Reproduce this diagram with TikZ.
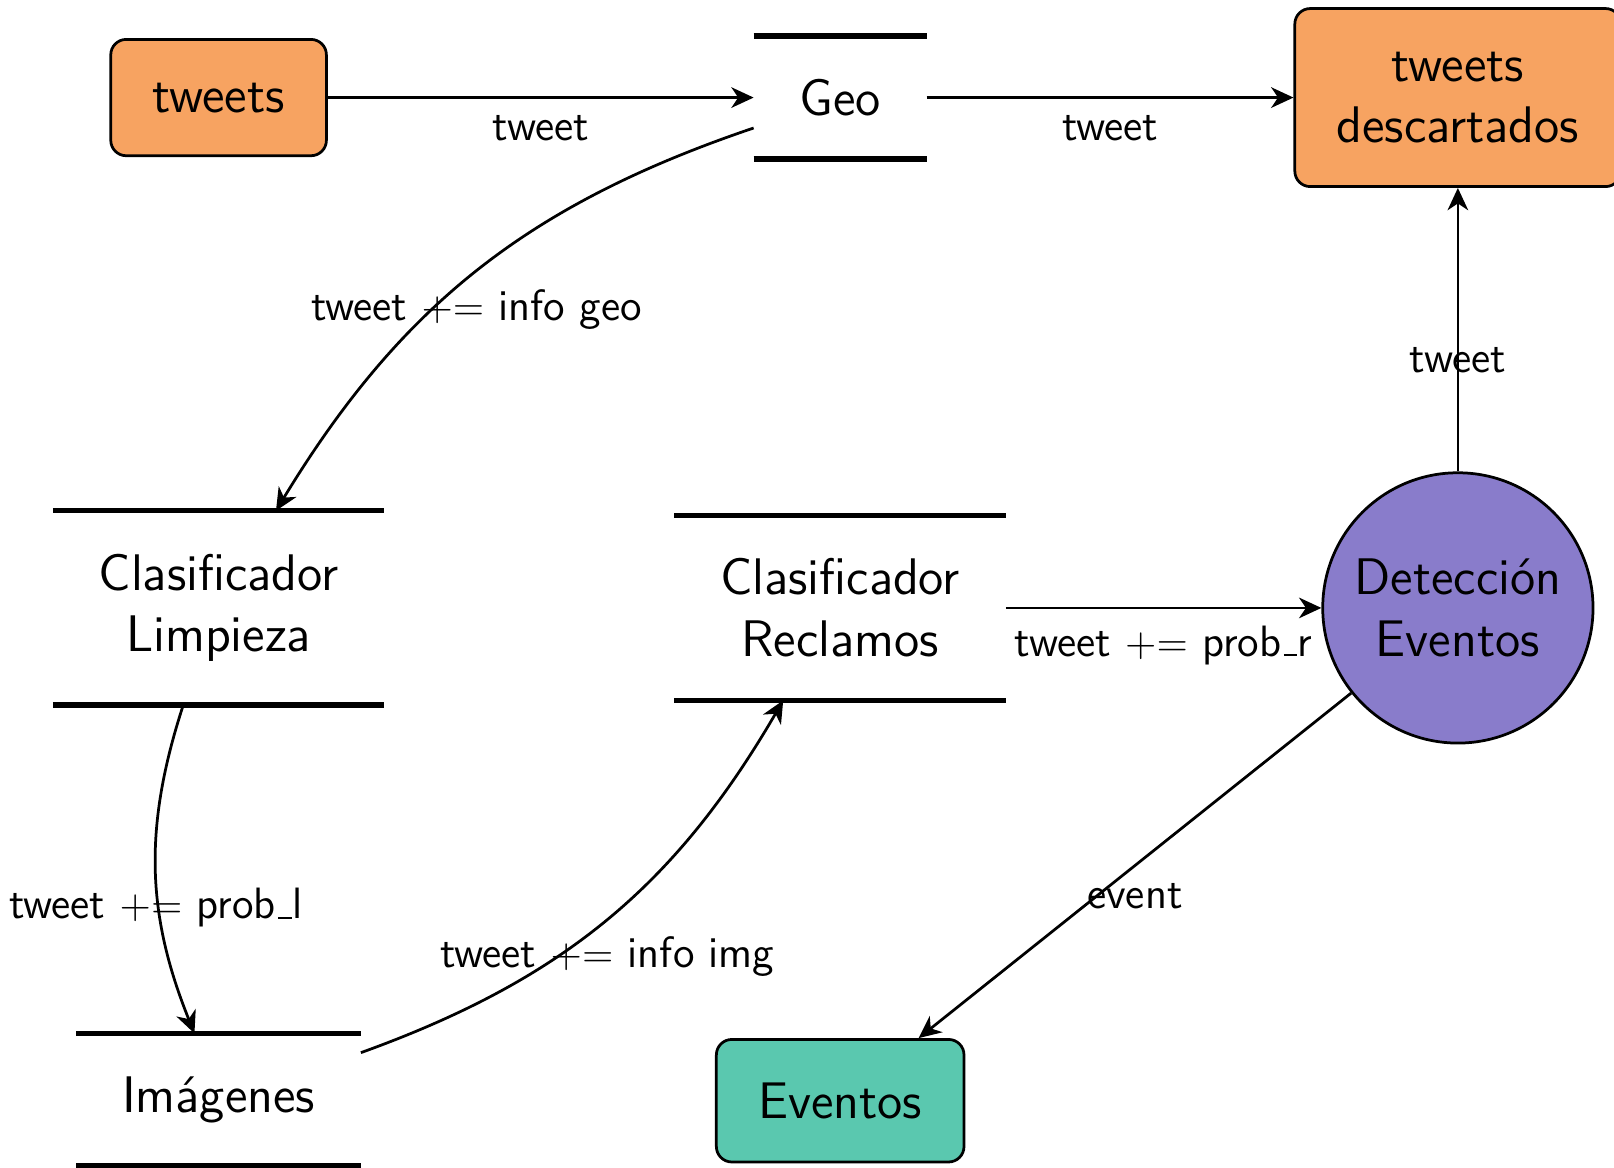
\documentclass[tikz,border=0pt]{standalone}
\usepackage{fontspec}
\usepackage{amsmath}
\usepackage{tikz}
\usetikzlibrary{arrows.meta}

\definecolor{naranja}{RGB}{247,163,97}
\definecolor{violeta}{RGB}{137,124,203}
\definecolor{verdeagua}{RGB}{90,200,175}

\newcommand{\bajo}{\kern.06em\vbox{\hrule width.3em height.6pt}\kern.02em}
\newcommand{\masigual}{${+}{=}$}

\begin{document}
\begin{tikzpicture}[
		caja/.style={draw, thick, rounded corners=4.5pt, font=\sffamily\fontsize{15}{18}\selectfont, align=center, inner xsep=12.2pt, inner ysep=12.6pt},
		proceso/.style={circle, draw, thick, font=\sffamily\fontsize{15}{18}\selectfont, align=center, minimum size=2.77cm, inner sep=0pt},
		almacen/.style={font=\sffamily\fontsize{15}{18}\selectfont, align=center, inner xsep=13.2pt, inner ysep=12.4pt,
			append after command={(\tikzlastnode.north west) edge[ultra thick] (\tikzlastnode.north east)
				(\tikzlastnode.south west) edge[ultra thick] (\tikzlastnode.south east)}},
		flecha/.style={-{Stealth[length=6.5pt, width=6pt, inset=2pt]}, thick},
		etiqueta/.style={font=\sffamily\fontsize{12.8}{15}\selectfont, below=1.5pt}]
	\useasboundingbox (0, 0) rectangle (16.54, -11.96);

	% fila de arriba
	\node[caja, fill=naranja] (tweets) at (2.24, -1) {tweets};
	\node[almacen] (geo) at (8.61, -1) {Geo};
	\node[caja, fill=naranja] (descartados) at (14.94, -1) {tweets\\descartados};

	% fila del medio
	\node[almacen] (limpieza) at (2.24, -6.23) {Clasificador\\Limpieza};
	\node[almacen] (reclamos) at (8.61, -6.23) {Clasificador\\Reclamos};
	\node[proceso, fill=violeta] (deteccion) at (14.94, -6.23) {Detección\\Eventos};

	% fila de abajo
	\node[almacen] (imagenes) at (2.24, -11.27) {Imágenes};
	\node[caja, fill=verdeagua] (eventos) at (8.61, -11.28) {Eventos};

	\draw[flecha] (tweets) -- node[etiqueta] {tweet} (geo);
	\draw[flecha] (geo) -- node[etiqueta] {tweet} (descartados);
	\draw[flecha] (geo) to[bend right=20] node[etiqueta] {tweet \masigual{} info geo} (limpieza);
	\draw[flecha] (limpieza) to[bend right=20] node[etiqueta] {tweet \masigual{} prob\bajo l} (imagenes);
	\draw[flecha] (imagenes) to[bend right=20] node[etiqueta] {tweet \masigual{} info img} (reclamos);
	\draw[flecha] (reclamos) -- node[etiqueta] {tweet \masigual{} prob\bajo r} (deteccion);
	\draw[flecha] (deteccion) -- node[etiqueta] {tweet} (descartados);
	\draw[flecha] (deteccion) -- node[etiqueta] {event} (eventos);
\end{tikzpicture}
\end{document}
